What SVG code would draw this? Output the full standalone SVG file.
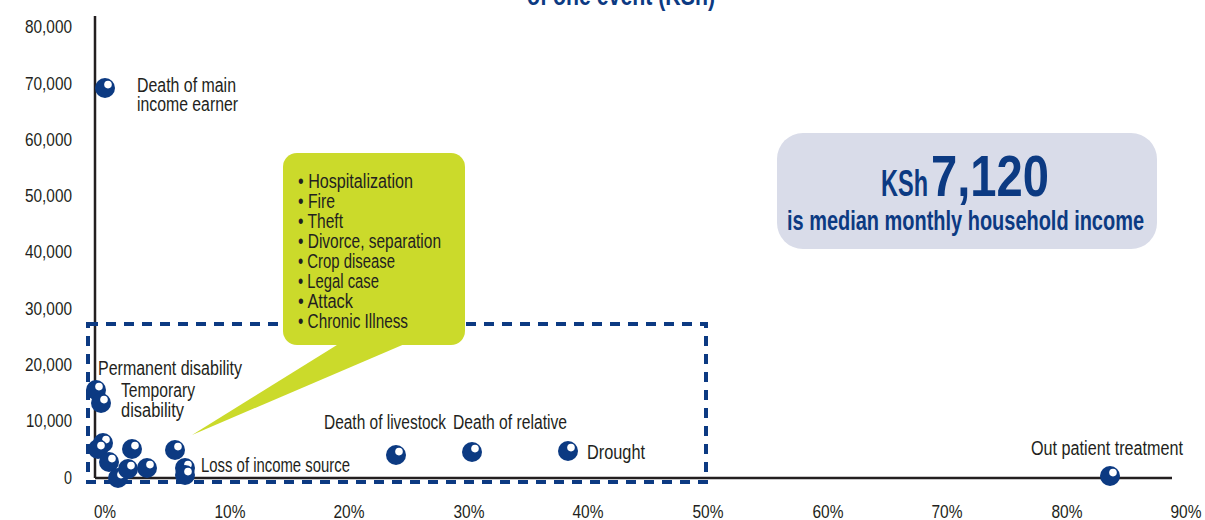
<svg xmlns="http://www.w3.org/2000/svg" width="1205" height="520" viewBox="0 0 1205 520">
<defs>
<style>
text{font-family:"Liberation Sans","DejaVu Sans",sans-serif;fill:#231f20;font-size:20px}
.ax{stroke:#231f20;stroke-width:2.5;fill:none}
.yl{text-anchor:end;font-size:18.5px}
.xl{text-anchor:middle;font-size:18.5px}
.b{fill:#cbda2b}
.blue{fill:#0c3a82;font-weight:bold}
.title{font-size:27px}
.ksh{font-size:37px}
.big{font-size:58px}
.sub{font-size:28px}
</style>
<g id="dot">
<circle r="10" fill="#0c3a82"/>
<circle cx="3" cy="-3.4" r="3.8" fill="#fff"/>
</g>
</defs>
<rect width="1205" height="520" fill="#fff"/>
<text class="blue title" x="527" y="5" textLength="188" lengthAdjust="spacingAndGlyphs">of one event (KSh)</text>

<g id="axes">
<line class="ax" x1="95" y1="16" x2="95" y2="478"/>
<line class="ax" x1="95" y1="478" x2="1172" y2="478"/>
<g id="ylabels">
<text class="yl" x="72" y="33" textLength="47" lengthAdjust="spacingAndGlyphs">80,000</text>
<text class="yl" x="72" y="90" textLength="47" lengthAdjust="spacingAndGlyphs">70,000</text>
<text class="yl" x="72" y="146" textLength="47" lengthAdjust="spacingAndGlyphs">60,000</text>
<text class="yl" x="72" y="202" textLength="47" lengthAdjust="spacingAndGlyphs">50,000</text>
<text class="yl" x="72" y="258" textLength="47" lengthAdjust="spacingAndGlyphs">40,000</text>
<text class="yl" x="72" y="315" textLength="47" lengthAdjust="spacingAndGlyphs">30,000</text>
<text class="yl" x="72" y="371" textLength="47" lengthAdjust="spacingAndGlyphs">20,000</text>
<text class="yl" x="72" y="427" textLength="46" lengthAdjust="spacingAndGlyphs">10,000</text>
<text class="yl" x="72" y="484" textLength="8" lengthAdjust="spacingAndGlyphs">0</text>
</g>
<g id="xlabels">
<text class="xl" x="105" y="518" textLength="22" lengthAdjust="spacingAndGlyphs">0%</text>
<text class="xl" x="230" y="518" textLength="31" lengthAdjust="spacingAndGlyphs">10%</text>
<text class="xl" x="349" y="518" textLength="31" lengthAdjust="spacingAndGlyphs">20%</text>
<text class="xl" x="469" y="518" textLength="31" lengthAdjust="spacingAndGlyphs">30%</text>
<text class="xl" x="588" y="518" textLength="31" lengthAdjust="spacingAndGlyphs">40%</text>
<text class="xl" x="708" y="518" textLength="31" lengthAdjust="spacingAndGlyphs">50%</text>
<text class="xl" x="828" y="518" textLength="31" lengthAdjust="spacingAndGlyphs">60%</text>
<text class="xl" x="947" y="518" textLength="31" lengthAdjust="spacingAndGlyphs">70%</text>
<text class="xl" x="1067" y="518" textLength="31" lengthAdjust="spacingAndGlyphs">80%</text>
<text class="xl" x="1186" y="518" textLength="31" lengthAdjust="spacingAndGlyphs">90%</text>
</g>
</g>

<g id="connectors">
<rect x="88" y="324" width="618" height="158" fill="none" stroke="#0c3a82" stroke-width="4" stroke-dasharray="10 8"/>
</g>

<g id="callout">
<polygon class="b" points="345,340 414,340 192,435"/>
<rect class="b" x="283" y="153" width="182" height="192" rx="14"/>
<text x="298" y="188" textLength="115" lengthAdjust="spacingAndGlyphs">• Hospitalization</text>
<text x="298" y="208" textLength="37" lengthAdjust="spacingAndGlyphs">• Fire</text>
<text x="298" y="228" textLength="45" lengthAdjust="spacingAndGlyphs">• Theft</text>
<text x="298" y="248" textLength="143" lengthAdjust="spacingAndGlyphs">• Divorce, separation</text>
<text x="298" y="268" textLength="97" lengthAdjust="spacingAndGlyphs">• Crop disease</text>
<text x="298" y="288" textLength="81" lengthAdjust="spacingAndGlyphs">• Legal case</text>
<text x="298" y="308" textLength="55" lengthAdjust="spacingAndGlyphs">• Attack</text>
<text x="298" y="328" textLength="110" lengthAdjust="spacingAndGlyphs">• Chronic Illness</text>
</g>

<g id="median">
<rect x="777" y="133" width="380" height="116" rx="26" fill="#d9dce9"/>
<text x="881" y="196" class="blue ksh" textLength="47" lengthAdjust="spacingAndGlyphs">KSh</text>
<text x="931" y="196" class="blue big" textLength="118" lengthAdjust="spacingAndGlyphs">7,120</text>
<text x="787" y="230" class="blue sub" textLength="357" lengthAdjust="spacingAndGlyphs">is median monthly household income</text>
</g>

<g id="points">
<use href="#dot" x="105" y="88"/>
<use href="#dot" x="96" y="390"/>
<use href="#dot" x="101" y="403"/>
<use href="#dot" x="103" y="443"/>
<use href="#dot" x="98" y="449"/>
<use href="#dot" x="109" y="462"/>
<use href="#dot" x="132" y="449"/>
<use href="#dot" x="118" y="478"/>
<use href="#dot" x="128" y="469"/>
<use href="#dot" x="147" y="468"/>
<use href="#dot" x="175" y="450"/>
<use href="#dot" x="185" y="468"/>
<use href="#dot" x="185" y="475"/>
<use href="#dot" x="396" y="455"/>
<use href="#dot" x="472" y="452"/>
<use href="#dot" x="568" y="451"/>
<use href="#dot" x="1110" y="476"/>
</g>

<g id="labels">
<text x="137" y="92" textLength="99" lengthAdjust="spacingAndGlyphs">Death of main</text>
<text x="137" y="111" textLength="101" lengthAdjust="spacingAndGlyphs">income earner</text>
<text x="98" y="375" textLength="144" lengthAdjust="spacingAndGlyphs">Permanent disability</text>
<text x="121" y="397" textLength="74" lengthAdjust="spacingAndGlyphs">Temporary</text>
<text x="121" y="417" textLength="63" lengthAdjust="spacingAndGlyphs">disability</text>
<text x="201" y="472" textLength="149" lengthAdjust="spacingAndGlyphs">Loss of income source</text>
<text x="324" y="429" textLength="122" lengthAdjust="spacingAndGlyphs">Death of livestock</text>
<text x="453" y="429" textLength="114" lengthAdjust="spacingAndGlyphs">Death of relative</text>
<text x="587" y="459" textLength="58" lengthAdjust="spacingAndGlyphs">Drought</text>
<text x="1031" y="455" textLength="152" lengthAdjust="spacingAndGlyphs">Out patient treatment</text>
</g>
</svg>
